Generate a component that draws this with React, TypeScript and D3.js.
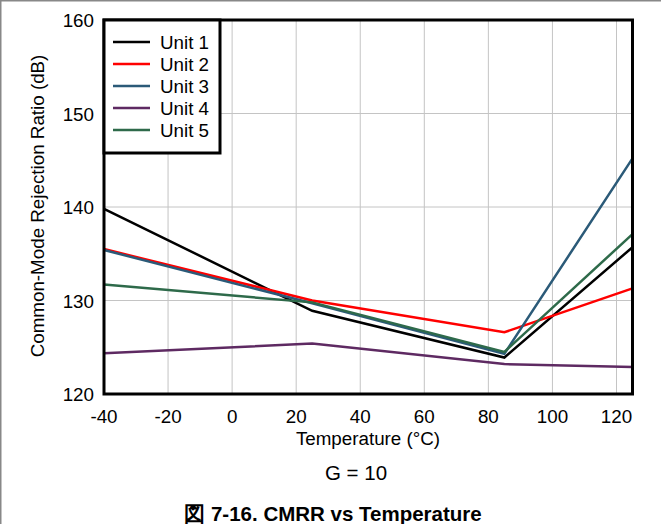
import React from "react";
import * as d3 from "d3";

const temps = [-40, 25, 85, 125];
const unitNames = ["Unit 1", "Unit 2", "Unit 3", "Unit 4", "Unit 5"];
const unit1 = [139.8, 128.9, 123.9, 135.7];
const unit2 = [135.5, 130.0, 126.6, 131.3];
const unit3 = [135.4, 129.7, 124.3, 145.2];
const unit4 = [124.35, 125.4, 123.2, 122.9];
const unit5 = [131.7, 129.8, 124.5, 137.1];
const colors = ["#000000", "#ff0000", "#2b5a78", "#5e2a62", "#2e6a4a"];
const xTicks = [-40, -20, 0, 20, 40, 60, 80, 100, 120];
const yTicks = [120, 130, 140, 150, 160];

const W = 661, H = 524;
const L = 104, R = 632.5, T = 20, B = 394;

export default function App() {
  const x = d3.scaleLinear().domain([-40, 125]).range([L, R]);
  const y = d3.scaleLinear().domain([120, 160]).range([B, T]);
  const series = [unit1, unit2, unit3, unit4, unit5];
  const line = d3.line<number>().x((_, i) => x(temps[i])).y((d) => y(d));
  const font = "Arial, 'Liberation Sans', sans-serif";
  const fs = 18.8;
  return (
    <svg width={W} height={H} style={{ position: "absolute", left: 0, top: 0 }} fontFamily={font}>
      <rect x={0} y={0} width={W} height={H} fill="#fff" />
      <line x1={0} y1={0.5} x2={W} y2={0.5} stroke="#888" strokeWidth={2} />
      <line x1={0.5} y1={0} x2={0.5} y2={H} stroke="#888" strokeWidth={2} />
      {xTicks.filter((t) => t > -40).map((t) => (
        <line key={"gx" + t} x1={x(t)} x2={x(t)} y1={T} y2={B} stroke="#c4c4c4" strokeWidth={1} />
      ))}
      {yTicks.filter((t) => t > 120 && t < 160).map((t) => (
        <line key={"gy" + t} x1={L} x2={R} y1={y(t)} y2={y(t)} stroke="#c4c4c4" strokeWidth={1} />
      ))}
      {series.map((s, i) => (
        <path key={i} d={line(s) || ""} fill="none" stroke={colors[i]} strokeWidth={2.5} strokeLinejoin="miter" />
      ))}
      <rect x={L} y={T} width={R - L} height={B - T} fill="none" stroke="#000" strokeWidth={3} />
      {xTicks.map((t) => (
        <text key={"tx" + t} x={x(t)} y={423} textAnchor="middle" fontSize={fs} fill="#000">{t}</text>
      ))}
      {yTicks.map((t) => (
        <text key={"ty" + t} x={94} y={y(t) + 7} textAnchor="end" fontSize={fs} fill="#000">{t}</text>
      ))}
      <text x={368} y={445} textAnchor="middle" fontSize={fs}>Temperature (°C)</text>
      <text x={0} y={0} textAnchor="middle" fontSize={fs} transform={`translate(44, 206) rotate(-90)`}>Common-Mode Rejection Ratio (dB)</text>
      <text x={356} y={480} textAnchor="middle" fontSize={20.5}>G = 10</text>
      <text x={333} y={521} textAnchor="middle" fontSize={20.5} fontWeight="bold">図 7-16. CMRR vs Temperature</text>
      <rect x={L} y={T} width={116} height={133} fill="#fff" stroke="#000" strokeWidth={3} />
      {unitNames.map((n, i) => (
        <g key={n}>
          <line x1={113} x2={150} y1={42 + i * 22} y2={42 + i * 22} stroke={colors[i]} strokeWidth={2.5} />
          <text x={160} y={42 + i * 22 + 7} fontSize={fs}>{n}</text>
        </g>
      ))}
    </svg>
  );
}
